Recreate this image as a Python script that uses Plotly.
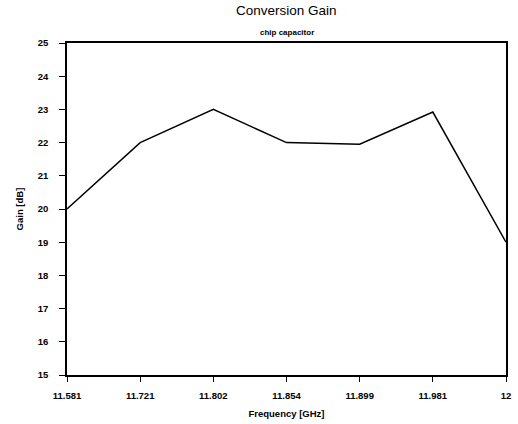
import plotly.graph_objects as go

frequencies = ["11.581", "11.721", "11.802", "11.854", "11.899", "11.981", "12"]
gain_db = [20.0, 22.0, 23.0, 22.0, 21.95, 22.92, 19.0]
y_ticks = list(range(15, 26))

fig = go.Figure()
fig.add_trace(go.Scatter(
    x=frequencies, y=gain_db, mode="lines",
    line=dict(color="black", width=1.5), showlegend=False,
))

tickfont = dict(family="Liberation Sans", size=9.5, color="black", weight="bold")

fig.update_layout(
    width=518, height=424,
    margin=dict(l=67, r=12, t=43, b=49),
    paper_bgcolor="white", plot_bgcolor="white",
    annotations=[
        dict(text="Conversion Gain", xref="paper", yref="paper", x=0.5, y=1,
             yshift=23, yanchor="bottom", showarrow=False,
             font=dict(family="Liberation Sans", size=13.5, color="black")),
        dict(text="chip capacitor", xref="paper", yref="paper", x=0.5, y=1,
             yshift=4, yanchor="bottom", showarrow=False,
             font=dict(family="Liberation Sans", size=8, color="black", weight="bold")),
    ],
    xaxis=dict(
        type="category", categoryorder="array", categoryarray=frequencies,
        range=[0, 6], showgrid=False, zeroline=False, automargin=False,
        showline=True, linecolor="black", linewidth=1.5, mirror=True,
        ticks="outside", ticklen=5, tickcolor="black", tickwidth=1,
        tickfont=tickfont, ticklabelstandoff=6,
        title=dict(text="Frequency [GHz]", font=tickfont, standoff=10),
    ),
    yaxis=dict(
        range=[15, 25], tickvals=y_ticks, showgrid=False, zeroline=False,
        automargin=False,
        showline=True, linecolor="black", linewidth=1.5, mirror=True,
        ticks="outside", ticklen=6, tickcolor="black", tickwidth=1,
        tickfont=tickfont, ticklabelstandoff=9,
        title=dict(text="Gain [dB]", font=tickfont, standoff=12),
    ),
)

fig.write_html("out.html")
